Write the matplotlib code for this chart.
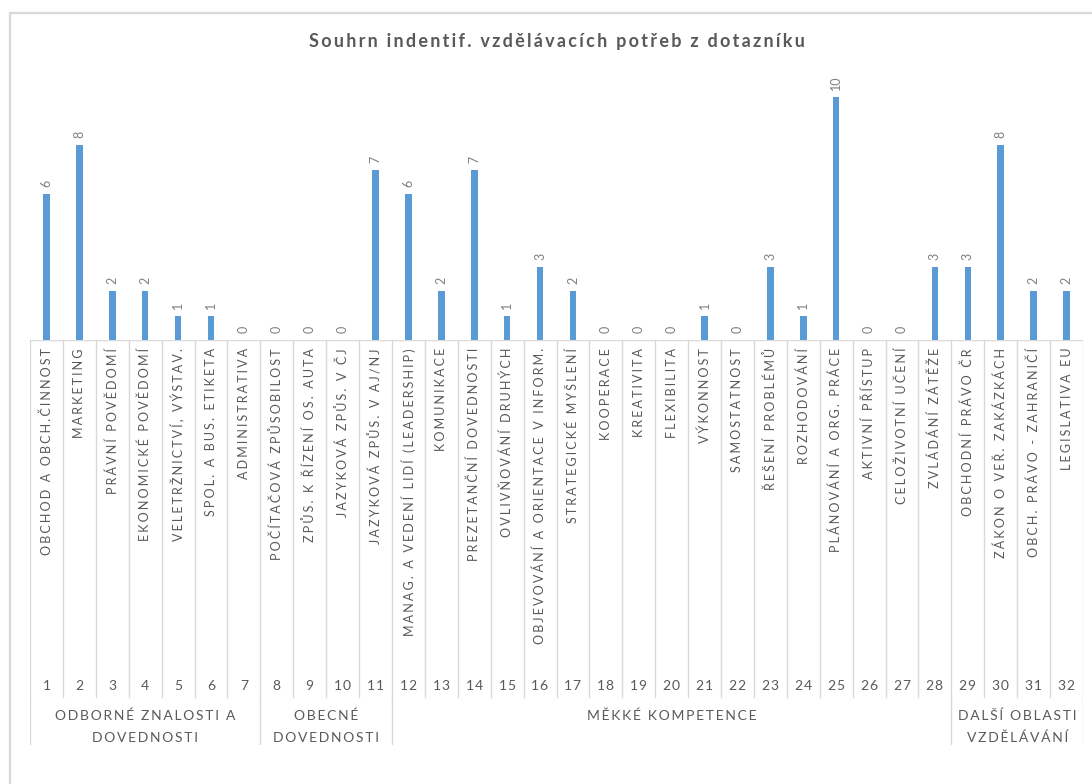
import matplotlib.pyplot as plt
from matplotlib.lines import Line2D

plt.rcParams['font.family'] = ['Lato', 'DejaVu Sans']

# --- data ---
categories = [
    "OBCHOD A OBCH.ČINNOST", "MARKETING", "PRÁVNÍ POVĚDOMÍ",
    "EKONOMICKÉ POVĚDOMÍ", "VELETRŽNICTVÍ, VÝSTAV.", "SPOL. A BUS. ETIKETA",
    "ADMINISTRATIVA", "POČÍTAČOVÁ ZPŮSOBILOST", "ZPŮS. K ŘÍZENÍ OS. AUTA",
    "JAZYKOVÁ ZPŮS. V ČJ", "JAZYKOVÁ ZPŮS. V AJ/NJ",
    "MANAG. A VEDENÍ LIDÍ (LEADERSHIP)", "KOMUNIKACE", "PREZETANČNÍ DOVEDNOSTI",
    "OVLIVŇOVÁNÍ DRUHÝCH", "OBJEVOVÁNÍ A ORIENTACE V INFORM.",
    "STRATEGICKÉ MYŠLENÍ", "KOOPERACE", "KREATIVITA", "FLEXIBILITA",
    "VÝKONNOST", "SAMOSTATNOST", "ŘEŠENÍ PROBLÉMŮ", "ROZHODOVÁNÍ",
    "PLÁNOVÁNÍ A ORG. PRÁCE", "AKTIVNÍ PŘÍSTUP", "CELOŽIVOTNÍ UČENÍ",
    "ZVLÁDÁNÍ ZÁTĚŽE", "OBCHODNÍ PRÁVO ČR", "ZÁKON O VEŘ. ZAKÁZKÁCH",
    "OBCH. PRÁVO - ZAHRANIČÍ", "LEGISLATIVA EU",
]
values = [6, 8, 2, 2, 1, 1, 0, 0, 0, 0, 7, 6, 2, 7, 1, 3, 2, 0, 0, 0,
          1, 0, 3, 1, 10, 0, 0, 3, 3, 8, 2, 2]
numbers = list(range(1, len(values) + 1))

groups = ["ODBORNÉ ZNALOSTI A\nDOVEDNOSTI", "OBECNÉ\nDOVEDNOSTI",
          "MĚKKÉ KOMPETENCE", "DALŠÍ OBLASTI\nVZDĚLÁVÁNÍ"]
group_sizes = [7, 4, 17, 4]

title = "Souhrn indentif. vzdělávacích potřeb z dotazníku"

BAR = "#5b9bd5"
TXT = "#595959"
LBL = "#7f7f7f"
GRID = "#d9d9d9"


def spaced(s, sep="\u2009"):
    # letter-spaced text, as in the spreadsheet chart style
    return sep.join(s)


W, H = 1092, 784
fig = plt.figure(figsize=(W / 100, H / 100), dpi=100)

# chart border (left and top edges)
fig.add_artist(Line2D([10 / W, 10 / W], [0, 1 - 13 / H], color=GRID, lw=1.6))
fig.add_artist(Line2D([10 / W, 1], [1 - 13 / H, 1 - 13 / H], color=GRID, lw=1.6))

x0, x1 = 30, 1083
base = 340
unit = 24.35
ymax = 12
ax = fig.add_axes([x0 / W, 1 - base / H, (x1 - x0) / W, ymax * unit / H])
ax.bar(numbers, values, width=0.2, color=BAR)
ax.set_xlim(0.5, len(values) + 0.5)
ax.set_ylim(0, ymax)
ax.axis("off")

for n, v in zip(numbers, values):
    ax.annotate(str(v), (n, v), xytext=(0, 5), textcoords="offset points",
                rotation=90, ha="center", va="bottom", fontsize=9, color=LBL)

# category label area below the axis
bottom = 745
lab = fig.add_axes([x0 / W, 1 - bottom / H, (x1 - x0) / W, (bottom - base) / H])
lab.set_xlim(0.5, len(values) + 0.5)
lab.set_ylim(bottom, base)
lab.axis("off")

lab.plot([0.5, len(values) + 0.5], [base, base], color=GRID, lw=1)
for b in range(len(values) + 1):
    lab.plot([b + 0.5, b + 0.5], [base, 697], color=GRID, lw=1)

for n, name in zip(numbers, categories):
    lab.text(n, 348, spaced(name, "\u2006"), rotation=90, ha="center", va="top",
             fontsize=9, color=TXT)
    lab.text(n, 686, spaced(str(n), "\u200a"), ha="center", va="center",
             fontsize=10, color=TXT)

start = 0.5
for g, size in zip(groups, group_sizes):
    lab.plot([start, start], [697, bottom], color=GRID, lw=1)
    lines = g.split("\n")
    for k, line in enumerate(lines):
        lab.text(start + size / 2, 716 + 22 * k, spaced(line),
                 ha="center", va="center", fontsize=10, color=TXT)
    start += size
lab.plot([start, start], [697, bottom], color=GRID, lw=1)

fig.text(557 / W, 1 - 42 / H, spaced(title), ha="center", va="center",
         fontsize=13, fontweight="bold", color=TXT)

fig.savefig("out.png", dpi=100)
